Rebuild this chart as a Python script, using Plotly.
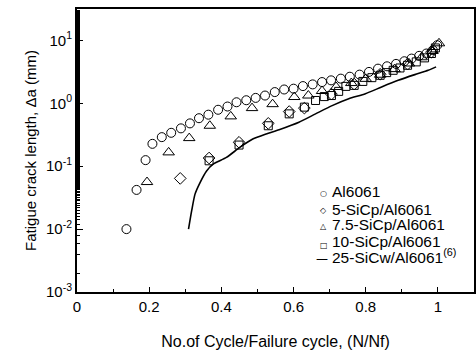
import plotly.graph_objects as go

# Al6061 (unreinforced)
al_x = [0.137, 0.165, 0.190, 0.209, 0.235, 0.261, 0.288, 0.313, 0.338, 0.364,
        0.391, 0.417, 0.442, 0.469, 0.495, 0.521, 0.548, 0.574, 0.600, 0.626,
        0.653, 0.679, 0.704, 0.731, 0.756, 0.783, 0.809, 0.834, 0.859, 0.884,
        0.907, 0.927, 0.948, 0.968, 0.986, 0.998]
al_y = [0.010, 0.042, 0.125, 0.227, 0.29, 0.34, 0.40, 0.48, 0.58, 0.66,
        0.79, 0.89, 1.04, 1.12, 1.22, 1.33, 1.51, 1.66, 1.71, 1.88,
        2.0, 2.18, 2.32, 2.47, 2.65, 2.86, 3.16, 3.56, 3.88, 4.24,
        4.67, 5.15, 5.69, 6.2, 7.0, 8.4]

# 5 vol% SiCp
sic5_x = [0.286, 0.366, 0.449, 0.530, 0.588, 0.630, 0.705, 0.768, 0.840, 0.916, 0.982]
sic5_y = [0.064, 0.135, 0.24, 0.48, 0.74, 0.84, 1.40, 2.02, 2.9, 4.2, 6.5]

# 7.5 vol% SiCp
sic75_x = [0.194, 0.254, 0.311, 0.368, 0.426, 0.485, 0.542, 0.602, 0.641, 0.679,
           0.718, 0.760, 0.800, 0.840, 0.880, 0.920, 0.955, 0.985, 1.003]
sic75_y = [0.056, 0.166, 0.28, 0.44, 0.62, 0.84, 0.97, 1.26, 1.33, 1.57,
           1.82, 2.10, 2.45, 2.85, 3.5, 4.3, 5.4, 6.8, 9.0]

# 10 vol% SiCp
sic10_x = [0.366, 0.449, 0.530, 0.588, 0.630, 0.661, 0.685, 0.705, 0.725, 0.745,
           0.768, 0.792, 0.817, 0.840, 0.858, 0.876, 0.895, 0.916, 0.940, 0.963,
           0.982, 0.993]
sic10_y = [0.122, 0.217, 0.44, 0.68, 0.87, 1.11, 1.28, 1.33, 1.55, 1.86,
           1.93, 2.23, 2.56, 2.79, 3.08, 3.35, 3.65, 4.03, 4.56, 5.28,
           6.2, 7.6]

# 25 vol% SiC whisker, ref. (6)
w25_x = [0.309, 0.318, 0.327, 0.341, 0.359, 0.377, 0.414, 0.451, 0.487, 0.524,
         0.560, 0.615, 0.661, 0.707, 0.753, 0.799, 0.844, 0.890, 0.936,
         0.973, 0.995]
w25_y = [0.010, 0.020, 0.036, 0.055, 0.084, 0.108, 0.138, 0.199, 0.27, 0.325,
         0.380, 0.50, 0.68, 0.92, 1.18, 1.42, 1.82, 2.32, 2.86,
         3.35, 3.8]

names = ["Al6061", "5-SiCp/Al6061", "7.5-SiCp/Al6061", "10-SiCp/Al6061",
         "25-SiCw/Al6061<sup>(6)</sup>"]
key_glyphs = ["○", "◇", "△", "□", "—"]

y_tickvals = [1e-3, 1e-2, 1e-1, 1e0, 1e1]
y_ticktext = ["10<sup>-3</sup>", "10<sup>-2</sup>", "10<sup>-1</sup>",
              "10<sup>0</sup>", "10<sup>1</sup>"]
x_tickvals = [0, 0.2, 0.4, 0.6, 0.8, 1.0]
x_ticktext = ["0", "0.2", "0.4", "0.6", "0.8", "1"]

BLK = "black"
FONT = "Liberation Sans, Arial, sans-serif"

fig = go.Figure()

series = [
    (al_x, al_y, "circle-open", 9),
    (sic5_x, sic5_y, "diamond-open", 9),
    (sic75_x, sic75_y, "triangle-up-open", 10),
    (sic10_x, sic10_y, "square-open", 8),
]
for (xs, ys, sym, sz), nm in zip(series, names[:4]):
    fig.add_trace(go.Scatter(
        x=xs, y=ys, mode="markers", name=nm, showlegend=False,
        marker=dict(symbol=sym, size=sz, color=BLK, line=dict(color=BLK, width=1)),
    ))
fig.add_trace(go.Scatter(
    x=w25_x, y=w25_y, mode="lines", name=names[4], showlegend=False,
    line=dict(color=BLK, width=1.6, shape="spline", smoothing=0.6),
))

# compact key in the lower right of the plot area
key_text_y = [0.354, 0.293, 0.239, 0.180, 0.127]
key_sym_y = [0.349, 0.287, 0.230, 0.166, 0.117]
for i, (g, nm) in enumerate(zip(key_glyphs, names)):
    is_line = g == "—"
    fig.add_annotation(
        xref="paper", yref="paper", x=0.617 if is_line else 0.622, y=key_sym_y[i],
        text=g, showarrow=False, xanchor="center", yanchor="middle",
        font=dict(size=12 if is_line else 8, family="DejaVu Sans", color=BLK),
    )
    fig.add_annotation(
        xref="paper", yref="paper", x=0.638, y=key_text_y[i],
        text=nm, showarrow=False, xanchor="left", yanchor="middle",
        font=dict(size=15.5, family=FONT, color=BLK),
    )

fig.update_layout(
    width=476, height=357,
    margin=dict(l=77, r=0, t=9, b=65),
    paper_bgcolor="white", plot_bgcolor="white",
    font=dict(family=FONT, color=BLK, size=13),
    showlegend=False,
    xaxis=dict(
        range=[0, 1.1], showgrid=False, zeroline=False,
        showline=True, linecolor=BLK, linewidth=2, mirror=True,
        ticks="inside", ticklen=5, tickcolor=BLK,
        tickvals=x_tickvals, ticktext=x_ticktext,
        minor=dict(ticks="inside", ticklen=3, dtick=0.1, tickcolor=BLK),
        tickfont=dict(size=15, family=FONT),
        title=dict(text="No.of Cycle/Failure cycle, (N/Nf)",
                   font=dict(size=16, family=FONT), standoff=22),
    ),
    yaxis=dict(
        type="log", range=[-3, 1.5], showgrid=False, zeroline=False,
        showline=True, linecolor=BLK, linewidth=2, mirror=True,
        ticks="inside", ticklen=6, tickcolor=BLK,
        tickvals=y_tickvals, ticktext=y_ticktext,
        minor=dict(ticks="inside", ticklen=3, tickcolor=BLK, showgrid=False),
        tickfont=dict(size=15, family=FONT),
        title=dict(text="Fatigue crack length, Δa (mm)",
                   font=dict(size=15, family=FONT), standoff=6),
    ),
)

fig.write_html("out.html")
